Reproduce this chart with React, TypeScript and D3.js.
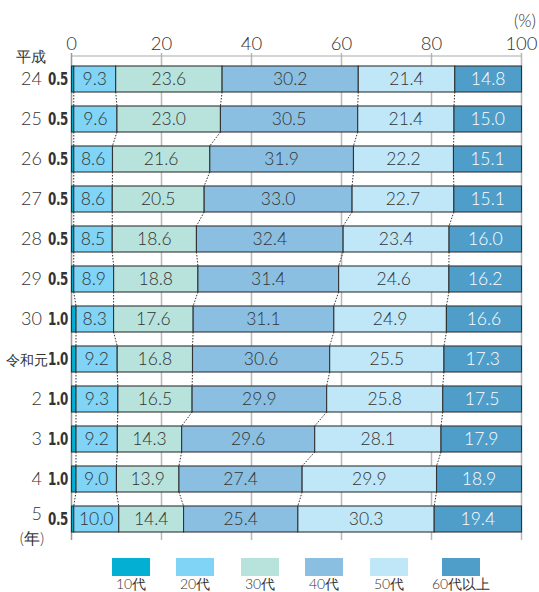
import React from "react";
import * as d3 from "d3";

// 年齢階層別の構成比（%）
const years = ["24", "25", "26", "27", "28", "29", "30", "令和元", "2", "3", "4", "5"];
const ageGroups = ["10代", "20代", "30代", "40代", "50代", "60代以上"];
const teens = [0.5, 0.5, 0.5, 0.5, 0.5, 0.5, 1.0, 1.0, 1.0, 1.0, 1.0, 0.5];
const twenties = [9.3, 9.6, 8.6, 8.6, 8.5, 8.9, 8.3, 9.2, 9.3, 9.2, 9.0, 10.0];
const thirties = [23.6, 23.0, 21.6, 20.5, 18.6, 18.8, 17.6, 16.8, 16.5, 14.3, 13.9, 14.4];
const forties = [30.2, 30.5, 31.9, 33.0, 32.4, 31.4, 31.1, 30.6, 29.9, 29.6, 27.4, 25.4];
const fifties = [21.4, 21.4, 22.2, 22.7, 23.4, 24.6, 24.9, 25.5, 25.8, 28.1, 29.9, 30.3];
const sixtiesPlus = [14.8, 15.0, 15.1, 15.1, 16.0, 16.2, 16.6, 17.3, 17.5, 17.9, 18.9, 19.4];
const xTicks = [0, 20, 40, 60, 80, 100];

const colors = ["#03afd3", "#80d4f6", "#b8e2dc", "#8bbfe1", "#bfe7f8", "#4f9ec9"];
const series = [teens, twenties, thirties, forties, fifties, sixtiesPlus];
const FONT = "Lato, 'Noto Sans', sans-serif";
const NARROW = "'Liberation Sans Narrow', 'DejaVu Sans Condensed', sans-serif";

export default function App() {
  const W = 539;
  const H = 592;
  const x = d3.scaleLinear().domain([0, 100]).range([71.5, 521.5]);
  const y = d3.scaleBand<string>().domain(years).range([66, 532]).paddingInner(0.35).paddingOuter(0);
  const bh = y.bandwidth();

  const rows = years.map((yr, i) => {
    const r: any = { year: yr };
    ageGroups.forEach((g, k) => (r[g] = series[k][i]));
    return r;
  });
  const stacked = d3.stack<any>().keys(ageGroups).offset(d3.stackOffsetExpand)(rows);

  const gridTop = 53;
  const gridBottom = 540;

  return (
    <svg
      width={W}
      height={H}
      style={{ position: "absolute", left: 0, top: 0, background: "#fff" }}
      fontFamily={FONT}
      fontWeight={300}
    >
      {/* grid and axis */}
      {xTicks.map((t) => (
        <line
          key={"g" + t}
          x1={x(t)}
          x2={x(t)}
          y1={gridTop}
          y2={gridBottom}
          stroke={t === 0 ? "#999" : "#b8b8b8"}
          strokeWidth={1.5}
        />
      ))}
      <line x1={x(0)} x2={x(100)} y1={56} y2={56} stroke="#aaa" strokeWidth={1.2} />
      {xTicks.map((t) => (
        <text key={"t" + t} x={x(t)} y={49.5} textAnchor="middle" fontSize={18.5} fill="#333">
          {t}
        </text>
      ))}
      <text x={536} y={27} textAnchor="end" fontSize={17} fill="#333">
        (%)
      </text>

      {/* dotted connectors between rows */}
      {years.slice(0, -1).map((yr, i) =>
        [0, 1, 2, 3, 4].map((k) => (
          <line
            key={"c" + i + "-" + k}
            x1={x(stacked[k][i][1] * 100)}
            x2={x(stacked[k][i + 1][1] * 100)}
            y1={(y(yr) as number) + bh}
            y2={y(years[i + 1]) as number}
            stroke="#333"
            strokeWidth={1}
            strokeDasharray="1.5,1.5"
          />
        ))
      )}

      {/* bars */}
      {stacked.map((s, k) =>
        s.map((d, i) => {
          const x0 = x(d[0] * 100);
          const x1 = x(d[1] * 100);
          return (
            <rect
              key={"r" + k + "-" + i}
              x={x0}
              y={y(years[i])}
              width={x1 - x0}
              height={bh}
              fill={colors[k]}
              stroke="#333"
              strokeWidth={1.1}
            />
          );
        })
      )}
      {stacked.map((s, k) =>
        k === 0
          ? null
          : s.map((d, i) => (
              <text
                key={"l" + k + "-" + i}
                x={(x(d[0] * 100) + x(d[1] * 100)) / 2}
                y={(y(years[i]) as number) + bh / 2 + 6.3}
                textAnchor="middle"
                fontSize={17.5}
                fill={k === 5 ? "#fff" : "#333"}
              >
                {series[k][i].toFixed(1)}
              </text>
            ))
      )}

      {/* teen values beside the axis */}
      {teens.map((v, i) => {
        const cy = (y(years[i]) as number) + bh / 2;
        return (
          <text
            key={"tv" + i}
            transform={`translate(68,${cy + 6}) scale(0.78,1)`}
            textAnchor="end"
            fontSize={17}
            fontWeight="bold"
            fontFamily={NARROW}
            letterSpacing={-0.5}
            fill="#333"
          >
            {v.toFixed(1)}
          </text>
        );
      })}

      {/* year labels */}
      <text x={31} y={62} textAnchor="middle" fontSize={15} fill="#333">
        平成
      </text>
      {years.map((yr, i) => (
        <text
          key={"y" + i}
          x={yr === "令和元" ? 48 : 42}
          y={(y(yr) as number) + bh / 2 + 6 - (i === years.length - 1 ? 5 : 0)}
          textAnchor="end"
          fontSize={yr === "令和元" ? 14 : 18}
          fill="#333"
        >
          {yr}
        </text>
      ))}
      <text x={32} y={544} textAnchor="middle" fontSize={16} fill="#333">
        (年)
      </text>

      {/* legend */}
      {ageGroups.map((g, k) => {
        const lx = [112, 176, 241, 305, 370, 442][k];
        return (
          <g key={"lg" + k}>
            <rect x={lx} y={558} width={38} height={18} fill={colors[k]} />
            <text x={lx + 19} y={589} textAnchor="middle" fontSize={14} fill="#333">
              {g}
            </text>
          </g>
        );
      })}
    </svg>
  );
}
